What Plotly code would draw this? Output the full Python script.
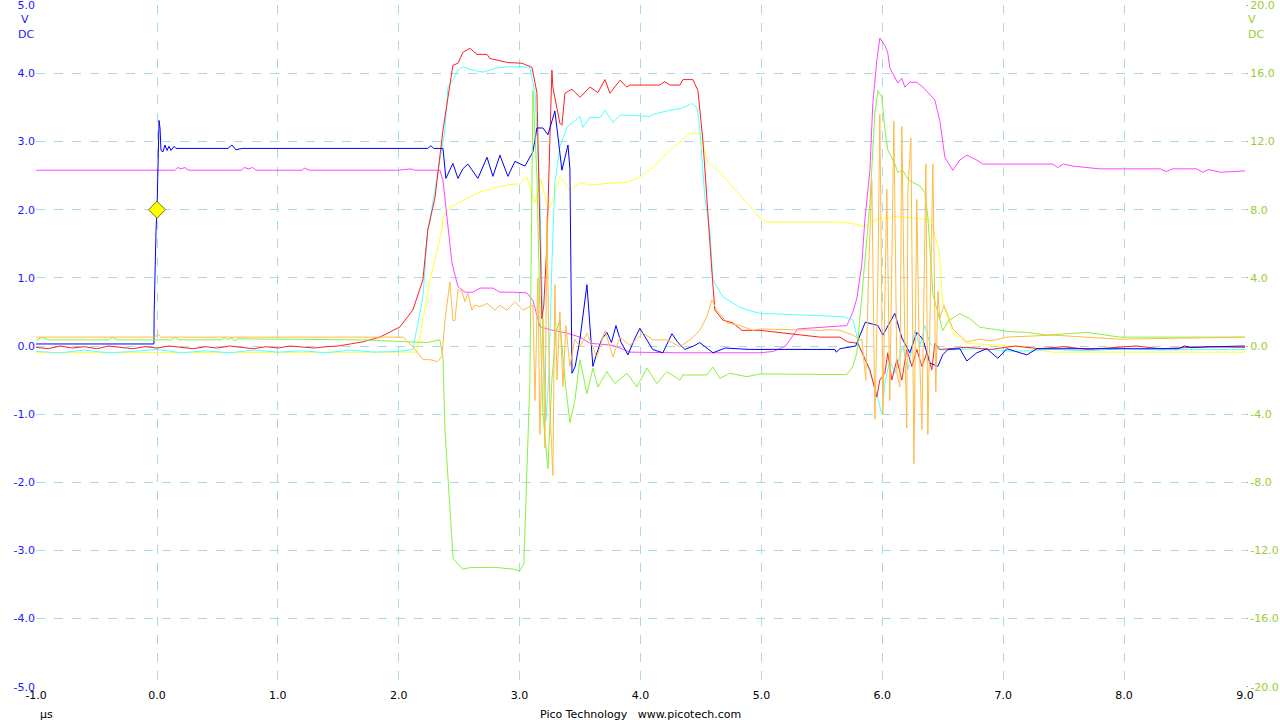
import plotly.graph_objects as go

# ---------------- data (time in µs, values in channel units) ----------------
blue_t = [-1.0, -0.6, -0.3, -0.025, -0.024, -0.017, -0.008, 0.0, 0.004, 0.008, 0.017, 0.025, 0.033, 0.05,
          0.066, 0.083, 0.099, 0.116, 0.141, 0.157, 0.587, 0.62, 0.653, 0.703, 2.24, 2.266, 2.29, 2.366,
          2.39, 2.448, 2.49, 2.53, 2.572, 2.655, 2.73, 2.779, 2.837, 2.903, 2.961, 3.044, 3.11, 3.143,
          3.193, 3.234, 3.292, 3.35, 3.4, 3.416, 3.433, 3.46, 3.499, 3.557, 3.606, 3.64, 3.68, 3.722,
          3.76, 3.797, 3.84, 3.896, 3.95, 3.995, 4.05, 4.1, 4.185, 4.26, 4.31, 4.367, 4.44, 4.49, 4.6,
          4.7, 4.9, 5.608, 5.62, 5.65, 5.78, 5.86, 5.964, 6.005, 6.104, 6.162, 6.228, 6.286, 6.336, 6.394,
          6.46, 6.5, 6.543, 6.642, 6.7, 6.782, 6.865, 6.956, 7.031, 7.196, 7.279, 8.45, 8.5, 8.55, 9.0]
blue_v = [0.03, 0.03, 0.03, 0.03, 0.45, 1.07, 1.7, 2.0, 2.43, 2.87, 3.31, 3.2, 2.87, 2.85,
          2.95, 2.87, 2.93, 2.87, 2.93, 2.9, 2.9, 2.95, 2.88, 2.9, 2.9, 2.94, 2.9, 2.9,
          2.46, 2.68, 2.46, 2.6, 2.67, 2.46, 2.77, 2.49, 2.8, 2.49, 2.71, 2.64, 2.85, 3.2,
          3.2, 3.1, 3.45, 2.58, 2.95, 2.6, -0.4, -0.3, 0.1, 0.9, -0.3, -0.1, 0.1, 0.2,
          0.05, 0.3, 0.05, -0.13, 0.1, 0.26, 0.1, -0.05, -0.1, 0.18, 0.05, -0.05, 0.0, 0.05, -0.1,
          -0.03, -0.05, -0.05, -0.09, -0.04, 0.0, 0.35, 0.3, 0.16, 0.48, 0.12, -0.1, 0.2, 0.1, -0.25,
          -0.3, -0.13, -0.05, -0.04, -0.22, -0.1, -0.04, -0.18, -0.04, -0.13, -0.04, -0.04, 0.0, -0.02, 0.0]

red_t = [-1.0, -0.9, -0.8, -0.7, -0.6, -0.5, -0.4, -0.3, -0.2, -0.1, 0.0, 0.1, 0.2, 0.3, 0.4, 0.5, 0.6,
         0.7, 0.8, 0.9, 1.0, 1.1, 1.2, 1.3, 1.4, 1.5, 1.6, 1.7, 1.844, 1.952, 2.01, 2.117, 2.2, 2.24,
         2.3, 2.366, 2.448, 2.49, 2.531, 2.589, 2.647, 2.73, 2.754, 2.903, 3.019, 3.102, 3.143, 3.168,
         3.184, 3.2, 3.226, 3.25, 3.267, 3.275, 3.333, 3.35, 3.375, 3.433, 3.499, 3.582, 3.648, 3.706,
         3.747, 3.83, 3.888, 3.912, 4.16, 4.2, 4.243, 4.326, 4.351, 4.433, 4.475, 4.516, 4.557, 4.59,
         4.615, 4.681, 4.764, 4.839, 4.988, 5.484, 5.649, 5.715, 5.798, 5.856, 5.898, 5.955, 5.98,
         6.022, 6.046, 6.079, 6.121, 6.162, 6.203, 6.245, 6.286, 6.328, 6.369, 6.41, 6.435, 6.476,
         6.7, 6.9, 7.1, 7.3, 7.5, 7.7, 7.9, 8.1, 8.3, 8.5, 8.7, 9.0]
red_v = [-0.02, -0.04, 0.0, -0.03, -0.01, -0.04, 0.0, -0.02, -0.04, -0.01, -0.03, 0.0, -0.02, -0.04,
         -0.01, -0.03, 0.0, -0.02, -0.04, -0.01, -0.03, 0.0, -0.02, -0.03, -0.01, 0.0, 0.03, 0.06,
         0.13, 0.23, 0.28, 0.53, 0.97, 1.7, 2.18, 3.17, 4.12, 4.15, 4.31, 4.37, 4.28, 4.28, 4.22,
         4.16, 4.15, 4.09, 3.72, 1.7, 0.4, 0.6, 1.5, 3.0, 4.05, 3.8, 3.27, 3.24, 3.71, 3.77, 3.65,
         3.8, 3.72, 3.91, 3.71, 3.9, 3.8, 3.83, 3.83, 3.88, 3.83, 3.83, 3.91, 3.91, 3.75, 3.02,
         1.89, 1.11, 0.53, 0.38, 0.34, 0.23, 0.23, 0.13, 0.13, 0.06, 0.04, -0.18, -0.35, -0.75,
         -0.5, -0.4, -0.1, -0.5, -0.2, -0.5, -0.05, -0.3, -0.05, -0.3, -0.1, -0.35, 0.04, -0.05,
         -0.02, -0.05, 0.0, -0.04, -0.01, -0.05, -0.02, 0.0, -0.04, -0.02, -0.01, -0.02]

cyan_t = [-1.0, -0.8, -0.6, -0.4, -0.2, 0.0, 0.2, 0.4, 0.6, 0.8, 1.0, 1.2, 1.4, 1.6, 1.8, 2.0, 2.117,
          2.2, 2.24, 2.258, 2.382, 2.407, 2.448, 2.49, 2.531, 2.589, 2.697, 2.812, 2.92, 3.027, 3.085,
          3.127, 3.168, 3.193, 3.218, 3.242, 3.267, 3.292, 3.333, 3.391, 3.499, 3.524, 3.582, 3.664,
          3.706, 3.772, 3.83, 4.078, 4.103, 4.243, 4.342, 4.425, 4.467, 4.491, 4.532, 4.574, 4.599,
          4.681, 4.822, 4.88, 4.988, 5.484, 5.674, 5.757, 5.815, 5.881, 5.939, 5.997, 6.022, 6.063,
          6.104, 6.17, 6.212, 6.27, 6.311, 6.353, 6.394, 6.435, 6.5, 6.8, 7.1, 7.4, 7.7, 8.0, 8.3,
          8.6, 9.0]
cyan_v = [-0.08, -0.1, -0.06, -0.1, -0.08, -0.05, -0.1, -0.07, -0.1, -0.06, -0.09, -0.07, -0.1,
          -0.06, -0.09, -0.08, -0.05, 0.72, 1.7, 1.85, 3.17, 3.8, 3.9, 4.05, 4.1, 4.06, 4.02, 4.08,
          4.1, 4.1, 4.08, 3.72, 2.18, 0.3, -1.1, -0.4, 1.2, 2.4, 2.92, 3.21, 3.37, 3.21, 3.36, 3.35,
          3.46, 3.28, 3.39, 3.37, 3.4, 3.46, 3.49, 3.56, 3.5, 3.17, 2.18, 1.7, 0.97, 0.72, 0.57, 0.53,
          0.48, 0.45, 0.43, 0.38, -0.02, -0.3, -0.6, -1.0, -0.55, -0.2, -0.4, 0.0, -0.35, 0.23, 0.0,
          0.3, 0.04, -0.03, -0.06, -0.04, -0.08, -0.05, -0.07, -0.04, -0.06, -0.05, -0.05]

yellow_t = [-1.0, 2.15, 2.175, 2.258, 2.357, 2.366, 2.423, 2.531, 2.672, 2.812, 2.92, 3.002, 3.06,
            3.127, 3.176, 3.234, 3.267, 3.333, 3.416, 3.499, 3.582, 3.747, 3.888, 3.995, 4.103, 4.218,
            4.301, 4.409, 4.491, 4.557, 4.657, 4.764, 4.88, 4.988, 5.05, 5.6, 5.75, 5.85, 5.95, 6.1,
            6.25, 6.4, 6.47, 6.501, 6.584, 6.7, 7.138, 7.411, 9.0]
yellow_v = [-0.1, -0.09, 0.13, 0.97, 1.7, 1.89, 2.04, 2.14, 2.26, 2.33, 2.37, 2.38, 2.48, 2.1,
            2.45, 2.0, 2.1, 2.48, 2.29, 2.4, 2.36, 2.39, 2.4, 2.48, 2.62, 2.83, 2.95, 3.12, 3.12,
            2.7, 2.55, 2.33, 2.1, 1.88, 1.82, 1.82, 1.8, 1.75, 1.85, 1.9, 1.88, 1.85, 1.4, 0.63,
            0.19, 0.04, -0.01, -0.09, -0.09]

magenta_t = [-1.0, 0.15, 0.17, 0.2, 0.23, 0.26, 0.7, 0.72, 0.76, 0.79, 0.82, 1.2, 1.22, 1.26, 2.0,
             2.1, 2.13, 2.34, 2.366, 2.399, 2.44, 2.49, 2.548, 2.614, 2.672, 2.779, 2.837, 2.945,
             3.06, 3.11, 3.168, 3.275, 3.391, 3.499, 3.582, 3.772, 3.912, 4.326, 4.988, 5.1, 5.2,
             5.3, 5.6, 5.707, 5.757, 5.79, 5.831, 5.856, 5.898, 5.922, 5.955, 5.98, 6.022, 6.046,
             6.063, 6.088, 6.129, 6.162, 6.187, 6.228, 6.286, 6.336, 6.394, 6.435, 6.476, 6.518,
             6.584, 6.642, 6.7, 6.782, 6.832, 7.411, 7.45, 7.5, 7.58, 7.692, 7.8, 8.3, 8.35, 8.4,
             8.6, 8.65, 8.7, 8.8, 9.0]
magenta_v = [2.58, 2.58, 2.62, 2.6, 2.62, 2.58, 2.58, 2.62, 2.6, 2.62, 2.58, 2.58, 2.61, 2.58, 2.58,
             2.6, 2.58, 2.58, 2.43, 1.9, 1.22, 0.87, 0.79, 0.79, 0.85, 0.85, 0.79, 0.79, 0.78, 0.67,
             0.28, 0.23, 0.19, 0.13, 0.04, 0.01, -0.09, -0.1, -0.1, -0.08, 0.0, 0.25, 0.28, 0.3, 0.5,
             0.7, 1.2, 1.85, 2.58, 3.56, 4.19, 4.52, 4.41, 4.3, 4.08, 4.0, 3.86, 3.93, 3.8, 3.87,
             3.87, 3.8, 3.68, 3.61, 3.31, 2.77, 2.58, 2.73, 2.8, 2.73, 2.67, 2.67, 2.62, 2.67, 2.64,
             2.62, 2.6, 2.6, 2.56, 2.6, 2.6, 2.55, 2.59, 2.55, 2.57]

green_t = [-1.0, -0.95, -0.9, -0.4, -0.37, -0.33, 0.12, 0.15, 0.18, 0.53, 0.56, 0.58, 0.62, 0.64,
           0.67, 1.7, 2.233, 2.34, 2.366, 2.382, 2.45, 2.53, 2.6, 2.8, 2.95, 3.0, 3.035, 3.085, 3.11,
           3.143, 3.168, 3.193, 3.234, 3.267, 3.3, 3.333, 3.375, 3.416, 3.457, 3.499, 3.557, 3.606,
           3.648, 3.722, 3.788, 3.888, 3.97, 4.053, 4.136, 4.218, 4.326, 4.351, 4.549, 4.599, 4.657,
           4.74, 4.88, 4.988, 5.707, 5.757, 5.79, 5.898, 5.939, 5.964, 5.997, 6.022, 6.046, 6.104,
           6.129, 6.17, 6.212, 6.253, 6.311, 6.353, 6.377, 6.42, 6.501, 6.55, 6.642, 6.725, 6.807,
           6.915, 7.055, 7.196, 7.362, 7.692, 7.965, 9.0]
green_v = [0.36, 0.5, 0.36, 0.36, 0.5, 0.36, 0.36, 0.5, 0.36, 0.36, 0.5, 0.36, 0.48, 0.3,
           0.42, 0.36, 0.2, 0.36, -0.64, -4.9, -12.5, -13.1, -13.0, -13.0, -13.1, -13.2, -12.8, -2.0,
           15.0, 10.0, 2.0, -4.0, -7.2, -2.0, 0.8, 1.5, -2.0, -4.5, -3.2, -0.8, -2.8, -1.3, -2.4,
           -1.5, -2.2, -1.6, -2.4, -1.3, -2.2, -1.5, -2.0, -1.7, -1.7, -1.24, -1.9, -1.6, -1.8, -1.64,
           -1.68, -1.2, -0.4, 8.4, 13.7, 15.0, 14.6, 12.7, 11.5, 10.7, 10.2, 10.3, 9.8, 9.6, 9.4,
           9.0, 7.6, 3.0, 0.9, 1.5, 1.9, 1.6, 1.1, 1.0, 0.84, 0.8, 0.64, 0.8, 0.52, 0.52]

orange_t = [-1.0, -0.02, 0.01, 0.03, 1.85, 2.035, 2.117, 2.2, 2.258, 2.324, 2.357, 2.382, 2.423, 2.448,
            2.465, 2.49, 2.523, 2.548, 2.572, 2.605, 2.63, 2.672, 2.73, 2.796, 2.837, 2.895, 2.961,
            3.027, 3.11, 3.127, 3.151, 3.168, 3.193, 3.209, 3.226, 3.25, 3.275, 3.292, 3.309, 3.333,
            3.358, 3.383, 3.416, 3.457, 3.499, 3.557, 3.639, 3.706, 3.772, 3.83, 3.912, 4.02, 4.103,
            4.218, 4.326, 4.409, 4.491, 4.549, 4.59, 4.632, 4.715, 4.822, 4.93, 4.988, 5.484, 5.566,
            5.649, 5.757, 5.815, 5.831, 5.864, 5.889, 5.914, 5.939, 5.964, 5.98, 6.005, 6.03, 6.038,
            6.063, 6.096, 6.121, 6.146, 6.162, 6.187, 6.203, 6.212, 6.237, 6.262, 6.286, 6.303,
            6.328, 6.361, 6.377, 6.402, 6.419, 6.443, 6.46, 6.476, 6.51, 6.543, 6.584, 6.7, 6.807,
            6.9, 7.031, 7.411, 7.965, 9.0]
orange_v = [0.52, 0.52, 0.7, 0.52, 0.52, 0.52, -0.04, -0.8, -0.8, -0.92, -0.6, 1.5, 3.76, 1.5,
            1.5, 3.3, 3.2, 2.6, 3.1, 2.1, 2.4, 2.3, 2.5, 2.1, 2.4, 2.1, 2.6, 2.1, 2.4, -3.2, 4.0,
            -5.2, 1.6, -6.0, 7.6, -3.6, -7.6, 3.6, -2.0, 2.0, -2.4, 1.2, -1.2, 0.4, -0.04, 0.76,
            -0.64, 0.92, -0.64, 0.52, 0.04, 0.76, 0.36, 0.36, -0.04, 0.36, 0.92, 1.72, 2.7, 2.1,
            1.36, 1.2, 0.92, 1.0, 0.92, 0.96, 0.92, 0.64, 0.36, 0.4, -2.0, 4.8, 9.7, -4.3, 4.0,
            13.6, -4.0, 6.0, 9.2, -3.2, 13.2, -1.6, -2.4, 12.9, 0.0, -4.8, 9.2, 12.2, -6.9, 8.6,
            0.8, -4.9, 10.7, -5.2, 3.2, 10.7, -2.7, 3.2, 1.6, 2.4, 1.8, 1.0, 0.24, 0.4, 0.3, 0.52,
            0.64, 0.4, 0.52]

trigger_t = [0.0]
trigger_v = [2.0]

x_ticks = [-1, 0, 1, 2, 3, 4, 5, 6, 7, 8, 9]
x_labels = ["-1.0", "0.0", "1.0", "2.0", "3.0", "4.0", "5.0", "6.0", "7.0", "8.0", "9.0"]
yl_ticks = [-5, -4, -3, -2, -1, 0, 1, 2, 3, 4, 5]
yl_labels = ["-5.0", "-4.0", "-3.0", "-2.0", "-1.0", "0.0", "1.0", "2.0", "3.0", "4.0", "5.0"]
yr_ticks = [-20, -16, -12, -8, -4, 0, 4, 8, 12, 16, 20]
yr_labels = ["-20.0", "-16.0", "-12.0", "-8.0", "-4.0", "0.0", "4.0", "8.0", "12.0", "16.0", "20.0"]

# ---------------- figure ----------------
GRID = "#a9d8e6"
FONT = "DejaVu Sans"
GREEN_TXT = "#99cc33"
BLUE_TXT = "#1a1aff"
L, R, T, B = 36, 35, 5, 33
PW, PH = 1280 - L - R, 720 - T - B

fig = go.Figure()

def add(t, v, color, axis="y"):
    fig.add_trace(go.Scatter(x=t, y=v, mode="lines", yaxis=axis,
                             line=dict(color=color, width=1), hoverinfo="skip", showlegend=False))

add(yellow_t, yellow_v, "#ffff33")
add(magenta_t, magenta_v, "#ff44ff")
add(green_t, green_v, "#88f23c", "y2")
add(cyan_t, cyan_v, "#55ffff")
add(red_t, red_v, "#ff2020")
add(orange_t, orange_v, "#ffbb44", "y2")
add(blue_t, blue_v, "#0000ff")
fig.add_trace(go.Scatter(x=trigger_t, y=trigger_v, mode="markers", showlegend=False, hoverinfo="skip",
                         marker=dict(symbol="diamond", size=13, color="#ffff00",
                                     line=dict(color="#777700", width=1))))

fig.update_layout(
    width=1280, height=720, paper_bgcolor="white", plot_bgcolor="white",
    margin=dict(l=L, r=R, t=T, b=B, autoexpand=False),
    font=dict(family=FONT, size=11),
    xaxis=dict(range=[-1.001, 9.001], tickvals=x_ticks, ticktext=x_labels, showgrid=True, gridcolor=GRID,
               griddash="dash", gridwidth=1, zeroline=False, showline=False, ticks="", automargin=False,
               ticklabeloverflow="allow",
               tickfont=dict(color="black", size=11, family=FONT)),
    yaxis=dict(range=[-5.005, 5.005], tickvals=yl_ticks, ticktext=yl_labels, showgrid=True, gridcolor=GRID,
               griddash="dash", gridwidth=1, zeroline=False, showline=False, ticks="", automargin=False,
               ticklabelstandoff=0, ticklabeloverflow="allow",
               tickfont=dict(color=BLUE_TXT, size=11, family=FONT)),
    yaxis2=dict(range=[-20.02, 20.02], tickvals=yr_ticks, ticktext=yr_labels, overlaying="y", side="right",
                showgrid=False, zeroline=False, showline=False, ticks="outside", ticklen=2,
                automargin=False, ticklabelstandoff=0, ticklabeloverflow="allow",
                tickcolor=GREEN_TXT, tickfont=dict(color=GREEN_TXT, size=11, family=FONT)),
)

def px_ann(xpx, ypx, text, color, xanchor):
    fig.add_annotation(x=(xpx - L) / PW, y=(720 - B - ypx) / PH, xref="paper", yref="paper",
                       xanchor=xanchor, yanchor="middle", text=text, showarrow=False,
                       font=dict(color=color, size=11, family=FONT))

px_ann(25, 20, "V", BLUE_TXT, "center")
px_ann(36, 35, "DC", BLUE_TXT, "right")
px_ann(1246, 20, "V", GREEN_TXT, "left")
px_ann(1246, 35, "DC", GREEN_TXT, "left")
px_ann(38, 714, "µs", "black", "left")
px_ann(640, 714, "Pico Technology&nbsp;&nbsp;&nbsp;www.picotech.com", "black", "center")

fig.write_html("out.html", config={"displayModeBar": False, "staticPlot": True},
               post_script="document.body.style.margin='0';document.body.style.overflow='hidden';")
